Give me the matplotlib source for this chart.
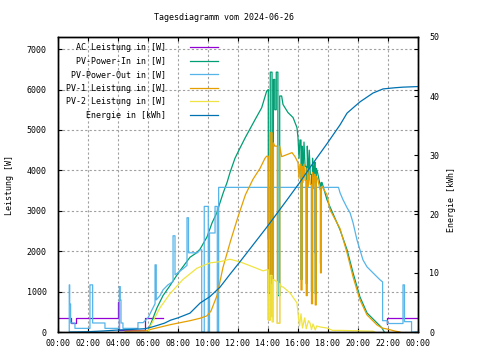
import matplotlib
matplotlib.use("Agg")
import matplotlib.pyplot as plt

plt.rcParams['font.family'] = ['DejaVu Sans Mono']
plt.rcParams['font.size'] = 6

# ---------------- data (hours, W / kWh) ----------------
title = "Tagesdiagramm vom 2024-06-26"
x_ticks = [0, 2, 4, 6, 8, 10, 12, 14, 16, 18, 20, 22, 24]
x_labels = ["00:00", "02:00", "04:00", "06:00", "08:00", "10:00", "12:00",
            "14:00", "16:00", "18:00", "20:00", "22:00", "00:00"]
y_ticks = [0, 1000, 2000, 3000, 4000, 5000, 6000, 7000]
y2_ticks = [0, 10, 20, 30, 40, 50]

labels = ["AC Leistung in [W]", "PV-Power-In in [W]", "PV-Power-Out in [W]",
          "PV-1 Leistung in [W]", "PV-2 Leistung in [W]", "Energie in [kWh]"]
colors = ["#9400d3", "#009e73", "#56b4e9", "#e69f00", "#f0e442", "#0072b2"]

# AC Leistung (night parts; during the day it coincides with PV-Power-Out)
ac_night1_t = [0.0, 0.84, 0.84, 1.18, 1.18, 4.0, 4.0, 4.08, 4.08, 5.8, 5.8, 7.0]
ac_night1_w = [355, 355, 215, 215, 355, 355, 750, 750, 60, 60, 355, 355]
ac_night2_t = [21.95, 21.95, 24.0]
ac_night2_w = [210, 355, 355]

pv_in_t = [6.0, 6.13, 6.6, 7.0, 7.47, 8.0, 8.5, 8.8, 9.2, 9.47, 9.93, 10.27, 10.58,
           10.8, 11.02, 11.27, 11.47, 11.8, 12.13, 12.47, 13.13, 13.58, 13.91,
           14.02, 14.02, 14.15, 14.15, 14.27, 14.27, 14.36, 14.36, 14.45, 14.45,
           14.55, 14.55, 14.66, 14.66, 14.78, 14.78, 14.91, 15.0, 15.33, 15.67,
           15.93, 16.0, 16.07, 16.13, 16.2, 16.2, 16.27, 16.27, 16.33, 16.4, 16.47,
           16.55, 16.55, 16.62, 16.62, 16.68, 16.75, 16.82, 16.9, 16.9, 16.97,
           16.97, 17.03, 17.1, 17.15, 17.15, 17.22, 17.22, 17.3, 17.47, 17.5, 17.5,
           17.55, 17.55, 17.6, 17.93, 18.13, 18.8, 19.27, 19.67, 20.13, 20.6,
           21.27, 21.6, 21.75]
pv_in_w = [0, 150, 600, 900, 1150, 1450, 1700, 1850, 1950, 2050, 2350, 2700, 2944,
           3200, 3450, 3700, 3950, 4300, 4550, 4800, 5250, 5550, 5960,
           6000, 960, 960, 6430, 6430, 1200, 1200, 6250, 6250, 5500,
           5500, 6430, 6430, 900, 900, 5840, 5840, 5630, 5431, 5307,
           5059, 4810, 4300, 4750, 4750, 1300, 1300, 4600, 3900, 4700, 4100,
           4100, 1200, 1200, 4600, 3800, 4500, 3900, 3900, 1000, 1000,
           4300, 3700, 4200, 4200, 950, 950, 4050, 3950, 3650, 3650, 1700,
           1700, 3700, 3700, 3274, 3100, 2530, 2034, 1463, 868, 471,
           223, 100, 0]

pv_out_t = [0.75, 0.75, 0.78, 0.78, 0.84, 0.84, 1.13, 1.13, 2.13, 2.13, 2.31, 2.31,
            3.13, 3.13, 4.09, 4.09, 4.15, 4.15, 4.2, 4.2, 4.33, 4.33, 5.33, 5.33,
            5.67, 6.0, 6.2, 6.47, 6.47, 6.55, 6.55, 6.8, 7.0, 7.33, 7.67, 7.67,
            7.8, 7.8, 8.33, 8.6, 8.6, 8.7, 8.7, 9.3, 9.47, 9.58, 9.58, 9.75, 9.75,
            10.02, 10.02, 10.1, 10.1, 10.47, 10.47, 10.62, 10.62, 10.71, 10.71,
            14.0, 14.0, 14.05, 14.05, 17.11, 17.11, 17.16, 17.16, 18.7, 18.8, 19.0,
            19.27, 19.47, 19.67, 19.93, 20.13, 20.33, 20.6, 21.0, 21.47, 21.64,
            21.64, 21.95, 21.95, 23.0, 23.0, 23.1, 23.1, 23.57, 23.57, 24.0]
pv_out_w = [0, 1166, 1166, 694, 694, 223, 223, 90, 90, 1166, 1166, 223,
            223, 90, 90, 1124, 1124, 794, 794, 223, 223, 90, 90, 231,
            231, 350, 500, 700, 1662, 1662, 794, 900, 1042, 1166, 1250, 2381,
            2381, 1414, 1563, 1650, 2827, 2827, 1960, 1960, 2034, 2034, 0, 0, 3108,
            3108, 0, 0, 2450, 2450, 3108, 3108, 0, 0, 3579,
            3579, 2300, 2300, 3579, 3579, 1960, 1960, 3579, 3579, 3447, 3274,
            3075, 2951, 2703, 2282, 2034, 1786, 1612, 1463, 1290, 1240,
            280, 280, 210, 210, 1166, 1166, 256, 256, 0, 0]

pv1_t = [4.47, 5.9, 6.13, 7.47, 8.8, 9.47, 9.93, 10.2, 10.6, 11.0, 11.5, 12.0,
         12.5, 13.0, 13.47, 13.8, 13.91, 14.02, 14.02, 14.15, 14.15, 14.27, 14.27,
         14.36, 14.36, 14.45, 14.55, 14.62, 14.62, 14.78, 14.78, 14.91, 15.27,
         15.6, 15.8, 16.0, 16.07, 16.13, 16.2, 16.2, 16.27, 16.27, 16.33, 16.4,
         16.47, 16.55, 16.55, 16.62, 16.62, 16.68, 16.75, 16.82, 16.9, 16.9,
         16.97, 16.97, 17.03, 17.1, 17.15, 17.15, 17.22, 17.22, 17.3, 17.47,
         17.5, 17.5, 17.55, 17.55, 17.6, 17.93, 18.13, 18.8, 19.27, 19.67, 20.13,
         20.6, 21.27, 21.6, 21.93, 22.5, 22.8]
pv1_w = [20, 30, 60, 180, 280, 340, 400, 520, 900, 1600, 2250, 2850,
         3400, 3780, 4050, 4300, 4350, 4350, 300, 300, 4930, 4930, 380,
         380, 4680, 4600, 4600, 4600, 215, 215, 4600, 4340, 4390,
         4439, 4340, 4191, 3800, 4150, 4150, 1040, 1040, 4100, 3700, 4150,
         3750, 3750, 900, 900, 4050, 3600, 4000, 3650, 3650, 700,
         700, 3950, 3550, 3900, 3900, 670, 670, 3850, 3800, 3522,
         3522, 1463, 1463, 3600, 3600, 3400, 3026, 2560, 1959, 1364, 794,
         422, 174, 99, 74, 20, 0]

pv2_t = [6.0, 6.13, 6.8, 7.47, 8.33, 9.27, 10.13, 10.8, 11.47, 12.13, 13.0, 13.67,
         13.91, 14.02, 14.02, 14.15, 14.15, 14.27, 14.27, 14.36, 14.36, 14.55,
         14.62, 14.62, 14.78, 14.78, 14.91, 15.0, 15.47, 15.93, 16.0, 16.1, 16.2,
         16.3, 16.45, 16.55, 16.7, 16.8, 16.9, 17.0, 17.15, 17.25, 17.47, 17.93,
         18.3, 18.8, 21.0, 21.1]
pv2_w = [0, 124, 600, 950, 1300, 1580, 1711, 1740, 1800, 1736, 1612, 1513,
         1538, 1538, 300, 300, 1400, 1400, 250, 250, 1300, 1250,
         1250, 215, 215, 1200, 1116, 1116, 967, 719, 470, 150, 450,
         100, 350, 80, 280, 223, 60, 200, 50, 150, 124, 99,
         40, 40, 20, 0]

energy_t = [0.8, 2.0, 3.0, 4.0, 5.0, 5.8, 6.2, 6.6, 7.1, 7.5, 8.0, 8.8, 9.47, 10.13,
            10.8, 11.47, 12.13, 13.93, 15.27, 16.13, 17.0, 17.93, 18.8, 19.27,
            20.13, 21.0, 21.67, 22.47, 23.0, 24.0]
energy_kwh = [0.0, 0.05, 0.17, 0.34, 0.45, 0.56, 0.8, 1.1, 1.5, 2.0, 2.4, 3.2, 4.9,
              6.0, 7.6, 9.8, 11.9, 17.8, 22.4, 25.4, 28.6, 31.9, 35.1, 37.1,
              39.0, 40.5, 41.2, 41.4, 41.5, 41.6]

# ---------------- figure ----------------
W, H = 480, 360
fig = plt.figure(figsize=(W / 100, H / 100), dpi=100)
L, R, T, B = 58, 418, 37, 332
ax = fig.add_axes([L / W, 1 - B / H, (R - L) / W, (B - T) / H])
ax2 = ax.twinx()

lw = 0.9
ln_ac, = ax.plot(ac_night1_t, ac_night1_w, color=colors[0], lw=lw, label=labels[0])
ax.plot(ac_night2_t, ac_night2_w, color=colors[0], lw=lw)
ln_in, = ax.plot(pv_in_t, pv_in_w, color=colors[1], lw=lw, label=labels[1])
ln_out, = ax.plot(pv_out_t, pv_out_w, color=colors[2], lw=lw, label=labels[2])
ln_p1, = ax.plot(pv1_t, pv1_w, color=colors[3], lw=lw, label=labels[3])
ln_p2, = ax.plot(pv2_t, pv2_w, color=colors[4], lw=lw, label=labels[4])
ln_en, = ax2.plot(energy_t, energy_kwh, color=colors[5], lw=lw, label=labels[5])

ax.set_xlim(0, 24)
ax.set_ylim(0, 7300)
ax2.set_ylim(0, 50)

ax.set_xticks(x_ticks)
ax.set_xticklabels(x_labels)
ax.set_yticks(y_ticks)
ax2.set_yticks(y2_ticks)

ax.tick_params(axis='x', direction='in', length=3, width=0.8, top=True,
               pad=5, labelsize=6)
ax.tick_params(axis='y', direction='in', length=3, width=0.8, right=True,
               pad=8, labelsize=6)
ax2.tick_params(direction='in', length=3, width=0.8, pad=8, labelsize=6)

ax.grid(True, color='#a0a0a0', linestyle=(0, (2, 2)), lw=0.8)
for a in (ax, ax2):
    for s in a.spines.values():
        s.set_linewidth(1.0)
ax2.set_zorder(ax.get_zorder() + 1)

fig.text(224 / W, 1 - 18 / H, title, ha='center', va='center', fontsize=6)
fig.text(10 / W, 1 - 185 / H, "Leistung [W]", rotation=90, ha='center',
         va='center', fontsize=6)
fig.text(452 / W, 1 - 200 / H, "Energie [kWh]", rotation=90, ha='center',
         va='center', fontsize=6)

handles = [ln_ac, ln_in, ln_out, ln_p1, ln_p2, ln_en]
leg = ax2.legend(handles, labels, loc='upper left', bbox_to_anchor=(0.022, 0.98),
                 frameon=False, markerfirst=False, alignment='right',
                 handlelength=3.4, handletextpad=2.9, labelspacing=0.55,
                 borderpad=0, borderaxespad=0, fontsize=6)

fig.savefig("out.png", dpi=100)
